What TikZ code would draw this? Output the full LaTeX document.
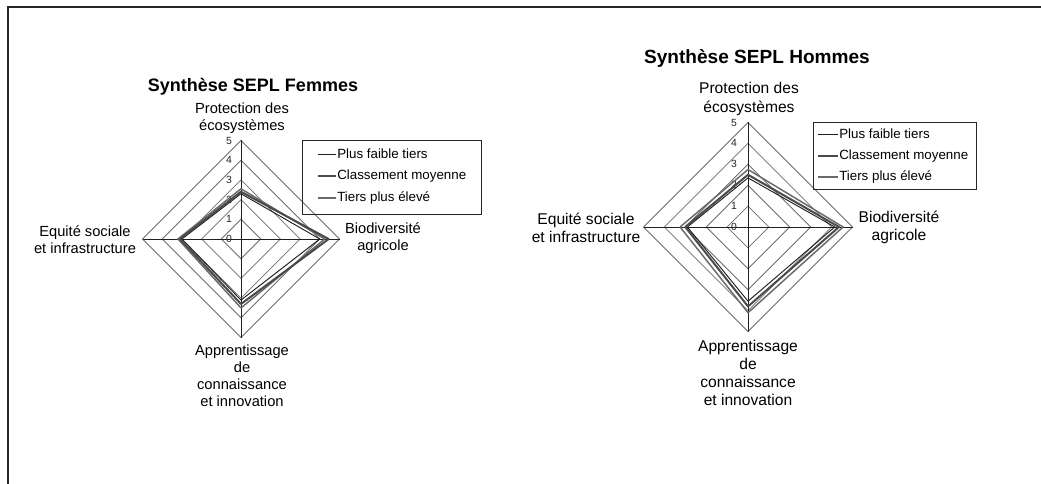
\documentclass[tikz,border=0pt]{standalone}
\usepackage{fontspec}
\setmainfont{Liberation Sans}
\definecolor{ringc}{HTML}{6E6E6E}
\definecolor{axisc}{HTML}{202020}
\definecolor{sone}{HTML}{1E1E1E}
\definecolor{stwo}{HTML}{4A4A4A}
\definecolor{sthree}{HTML}{6A6A6A}
\tikzset{
  ringline/.style={draw=ringc, line width=0.6pt},
  axisline/.style={draw=axisc, line width=0.6pt},
  serone/.style={draw=sone, line width=0.7pt, line join=round},
  sertwo/.style={draw=stwo, line width=1.5pt, line join=round},
  serthree/.style={draw=sthree, line width=1.1pt, line join=round},
  ticklab/.style={font=\fontsize{7.8}{8}\selectfont, inner sep=0pt, text=black!85},
  labL/.style={align=center, inner sep=0pt, font=\fontsize{11}{12.75}\selectfont},
  labR/.style={align=center, inner sep=0pt, font=\fontsize{11.7}{13.6}\selectfont},
  legtext/.style={anchor=west, inner sep=0pt, font=\fontsize{10}{11}\selectfont},
  legbox/.style={draw=black!85, line width=0.6pt},
  frameline/.style={draw=black!85, line width=1.2pt}
}
\begin{document}
\begin{tikzpicture}[x=0.75pt,y=-0.75pt]
\useasboundingbox (0,0) rectangle (1041,484);
\fill[white] (0,0) rectangle (1041,484);
\draw[frameline] (8,484) -- (8,7) -- (1041,7);

% ---------------- Left chart ----------------
\begin{scope}[shift={(241,239)}]
  \def\u{19.7}
  \foreach \k in {1,...,5}
    \draw[ringline] (0,{-\k*\u}) -- ({\k*\u},0) -- (0,{\k*\u}) -- ({-\k*\u},0) -- cycle;
  \draw[axisline] (0,{-5*\u}) -- (0,{5*\u});
  \draw[axisline] ({-5*\u},0) -- ({5*\u},0);
  \foreach \k in {0,...,5}
    \node[ticklab] (lt\k) at (-12,{-\k*\u}) {\k};
  \draw[serone] (0,{-2.3*\u}) -- ({4.0*\u},0) -- (0,{3.1*\u}) -- ({-3.0*\u},0) -- cycle;
  \draw[serthree] (0,{-2.55*\u}) -- ({4.25*\u},0) -- (0,{3.5*\u}) -- ({-3.2*\u},0) -- cycle;
  \draw[sertwo] (0,{-2.4*\u}) -- ({4.45*\u},0) -- (0,{3.3*\u}) -- ({-3.1*\u},0) -- cycle;
\end{scope}
\node[font=\bfseries\fontsize{13.5}{15}\selectfont, inner sep=0pt] (ltitle) at (253,87) {Synthèse SEPL Femmes};
\node[labL] (lprot) at (242,118.5) {Protection des\\écosystèmes};
\node[labL] (lbio) at (383,238.5) {Biodiversité\\agricole};
\node[labL] (lequ) at (85,239.5) {Equité sociale\\et infrastructure};
\node[labL] (lapp) at (242,376) {Apprentissage\\de\\connaissance\\et innovation};
% legend
\draw[legbox] (302,140) rectangle (481,214);
\coordinate (la1) at (318,154); \coordinate (lb1) at (336,154);
\coordinate (la2) at (318,176); \coordinate (lb2) at (336,176);
\coordinate (la3) at (318,198); \coordinate (lb3) at (336,198);
\draw[serone] (la1) -- (lb1);
\draw[sertwo] (la2) -- (lb2);
\draw[serthree] (la3) -- (lb3);
\node[legtext] (lg1) at (337,154) {Plus faible tiers};
\node[legtext] (lg2) at (337,176) {Classement moyenne};
\node[legtext] (lg3) at (337,198) {Tiers plus élevé};

% ---------------- Right chart ----------------
\begin{scope}[shift={(748,227)}]
  \def\u{20.9}
  \foreach \k in {1,...,5}
    \draw[ringline] (0,{-\k*\u}) -- ({\k*\u},0) -- (0,{\k*\u}) -- ({-\k*\u},0) -- cycle;
  \draw[axisline] (0,{-5*\u}) -- (0,{5*\u});
  \draw[axisline] ({-5*\u},0) -- ({5*\u},0);
  \foreach \k in {0,...,5}
    \node[ticklab] (rt\k) at (-14,{-\k*\u}) {\k};
  \draw[serone] (0,{-2.35*\u}) -- ({4.15*\u},0) -- (0,{3.55*\u}) -- ({-2.9*\u},0) -- cycle;
  \draw[serthree] (0,{-2.75*\u}) -- ({4.55*\u},0) -- (0,{4.1*\u}) -- ({-3.25*\u},0) -- cycle;
  \draw[sertwo] (0,{-2.5*\u}) -- ({4.35*\u},0) -- (0,{3.8*\u}) -- ({-3.0*\u},0) -- cycle;
\end{scope}
\node[font=\bfseries\fontsize{14.3}{16}\selectfont, inner sep=0pt] (rtitle) at (757,58) {Synthèse SEPL Hommes};
\node[labR] (rprot) at (749,99) {Protection des\\écosystèmes};
\node[labR] (rbio) at (899,227.5) {Biodiversité\\agricole};
\node[labR] (requ) at (586,227.5) {Equité sociale\\et infrastructure};
\node[labR] (rapp) at (748,373) {Apprentissage\\de\\connaissance\\et innovation};
% legend
\draw[legbox] (813,122) rectangle (976,189);
\coordinate (ra1) at (818,134); \coordinate (rb1) at (838,134);
\coordinate (ra2) at (818,156); \coordinate (rb2) at (838,156);
\coordinate (ra3) at (818,177); \coordinate (rb3) at (838,177);
\draw[serone] (ra1) -- (rb1);
\draw[sertwo] (ra2) -- (rb2);
\draw[serthree] (ra3) -- (rb3);
\node[legtext] (rg1) at (839,134) {Plus faible tiers};
\node[legtext] (rg2) at (839,156) {Classement moyenne};
\node[legtext] (rg3) at (839,177) {Tiers plus élevé};
\end{tikzpicture}
\end{document}
